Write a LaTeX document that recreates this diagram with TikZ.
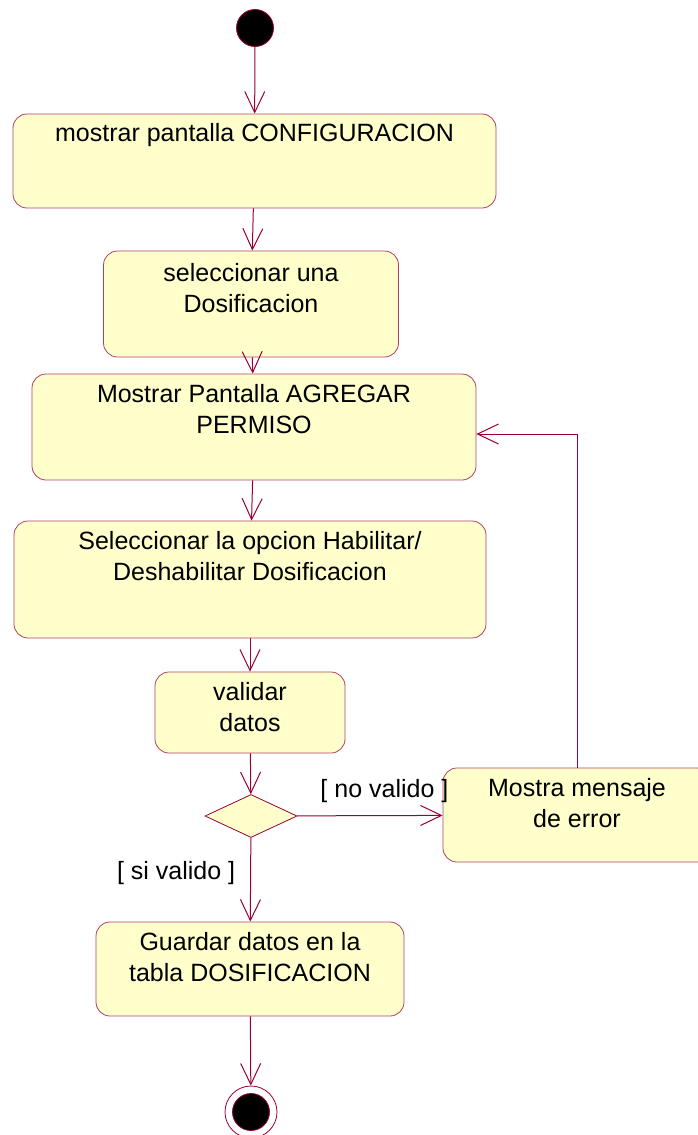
\documentclass[tikz,border=0pt]{standalone}
\usepackage{fontspec}
\setmainfont{Liberation Sans}
\usepackage{tikz}
\usetikzlibrary{arrows.meta, positioning, shapes.geometric}
\definecolor{umlline}{HTML}{990033}
\definecolor{umlfill}{HTML}{FFFFCC}

\begin{document}
\begin{tikzpicture}[
  x=1pt, y=-1pt,
  font=\fontsize{25}{31}\selectfont, >={Straight Barb[length=21pt,width=20pt]},
  act/.style={draw=umlline!75, fill=umlfill, rounded corners=14pt, line width=0.8pt, inner sep=0pt},
  txt/.style={inner sep=0pt, align=center},
  lbl/.style={inner sep=0pt},
  flow/.style={->, draw=umlline, line width=1pt},
  dot/.style={circle, draw=umlline, fill=black, inner sep=0pt, line width=0.8pt}]
  \useasboundingbox (0,0) rectangle (697,1135);
  % Inicio
  \node[dot, minimum size=37pt] (ini) at (255,28) {};
  % Actividades
  \node[act, minimum width=483pt, minimum height=94pt]  (cfg)  at (254.5,161) {};
  \node[act, minimum width=295pt, minimum height=106pt] (sel)  at (251,304)   {};
  \node[act, minimum width=444pt, minimum height=106pt] (agr)  at (254,427)   {};
  \node[act, minimum width=472pt, minimum height=117pt] (hab)  at (250,579.5) {};
  \node[act, minimum width=190pt, minimum height=81pt]  (val)  at (250,712.5) {};
  \node[act, minimum width=268pt, minimum height=94pt]  (err)  at (577,815)   {};
  \node[act, minimum width=308pt, minimum height=94pt]  (save) at (250,969)   {};
  % Textos
  \node[txt, below=10pt of cfg.north]  (cfgTxt)  {mostrar pantalla CONFIGURACION};
  \node[txt, below=13pt of sel.north]  (selTxt)  {seleccionar una\\Dosificacion};
  \node[txt, below=11pt of agr.north]  (agrTxt)  {Mostrar Pantalla AGREGAR\\PERMISO};
  \node[txt, below=11pt of hab.north]  (habTxt)  {Seleccionar la opcion Habilitar/\\Deshabilitar Dosificacion};
  \node[txt, below=11pt of val.north]  (valTxt)  {validar\\datos};
  \node[txt, below=11pt of err.north]  (errTxt)  {Mostra mensaje\\de error};
  \node[txt, below=11pt of save.north] (saveTxt) {Guardar datos en la\\tabla DOSIFICACION};
  % Decision
  \node[diamond, draw=umlline, fill=umlfill, line width=0.8pt, inner sep=0pt,
        minimum width=92pt, minimum height=43pt] (dec) at (251,816) {};
  % Fin
  \node[circle, draw=umlline, fill=white, line width=0.8pt, inner sep=0pt, minimum size=52pt] (fin) at (251,1112) {};
  \node[dot, minimum size=37pt] (finIn) at (fin) {};
  % Flujo
  \draw[flow] (ini) -- (cfg);
  \draw[flow] (cfg) -- (sel);
  \draw[flow] (sel) -- (agr);
  \draw[flow] (agr) -- (hab);
  \draw[flow] (hab) -- (val);
  \draw[flow] (val) -- (dec);
  \draw[flow] (dec) -- node[lbl, pos=0.6, above=12pt] (noLbl) {[ no valido ]} (err);
  \draw[flow] (dec) -- node[lbl, pos=0.42, left=15pt] (siLbl) {[ si valido ]} (save);
  \draw[flow] (save) -- (fin);
  \draw[flow] (err.north) |- ([yshift=-7pt]agr.east);
\end{tikzpicture}
\end{document}
